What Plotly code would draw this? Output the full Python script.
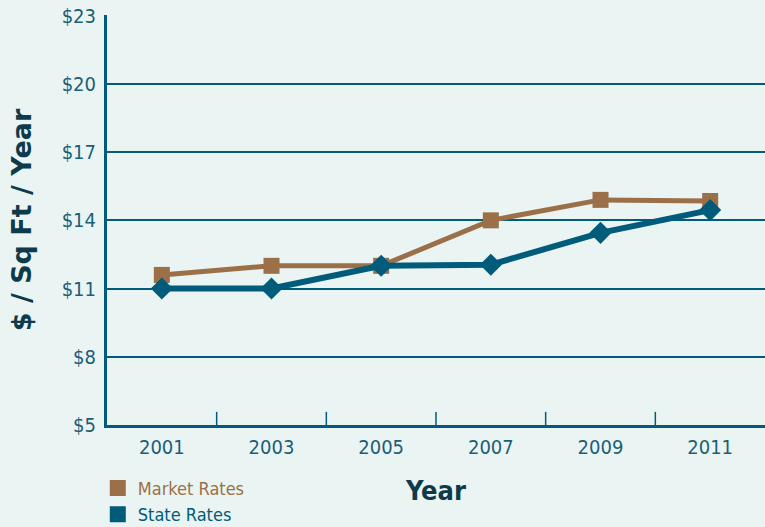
import plotly.graph_objects as go

years = ["2001", "2003", "2005", "2007", "2009", "2011"]
market_rates = [11.6, 12.0, 12.0, 14.0, 14.9, 14.85]
state_rates = [11.0, 11.0, 12.0, 12.05, 13.45, 14.45]
y_ticks = [5, 8, 11, 14, 17, 20, 23]
y_tick_labels = ["$" + str(v) for v in y_ticks]

BROWN = "#9B7048"
TEAL = "#005C7A"
BG = "#EAF4F2"
LABEL = "#1A5F78"
TITLE = "#0E3B4C"
NARROW = "DejaVu Sans Condensed, Liberation Sans Narrow, sans-serif"

fig = go.Figure()
fig.add_trace(go.Scatter(
    x=years, y=market_rates, mode="lines+markers",
    line=dict(color=BROWN, width=5),
    marker=dict(symbol="square", size=16, color=BROWN),
    showlegend=False, cliponaxis=False,
))
fig.add_trace(go.Scatter(
    x=years, y=state_rates, mode="lines+markers",
    line=dict(color=TEAL, width=6),
    marker=dict(symbol="diamond", size=17, color=TEAL),
    showlegend=False, cliponaxis=False,
))
# legend entries
fig.add_trace(go.Scatter(
    x=[None], y=[None], mode="markers",
    marker=dict(symbol="square", size=17, color=BROWN),
    name="<span style='color:%s'>Market Rates</span>" % BROWN,
))
fig.add_trace(go.Scatter(
    x=[None], y=[None], mode="markers",
    marker=dict(symbol="square", size=17, color=TEAL),
    name="<span style='color:%s'>State Rates</span>" % TEAL,
))

fig.update_layout(
    width=765, height=527,
    paper_bgcolor=BG, plot_bgcolor=BG,
    margin=dict(l=107, r=0, t=15, b=102, autoexpand=False),
    font=dict(family=NARROW, color=LABEL, size=19),
    legend=dict(
        x=-0.014, y=-0.109, xanchor="left", yanchor="top",
        bgcolor="rgba(0,0,0,0)", font=dict(family=NARROW, size=18),
        tracegroupgap=0, itemsizing="trace", itemwidth=30,
    ),
    xaxis=dict(
        type="category", range=[-0.5, 5.5],
        showgrid=False, zeroline=False,
        showline=True, linecolor=TEAL, linewidth=3,
        ticks="", tickfont=dict(family=NARROW, size=20, color=LABEL),
        ticklabelstandoff=2,
        title=dict(text="<b>Year</b>", font=dict(family="DejaVu Sans Condensed, DejaVu Sans", size=27, color=TITLE), standoff=24),
    ),
    yaxis=dict(
        range=[5, 23.03], tickvals=y_ticks, ticktext=y_tick_labels,
        showgrid=True, gridcolor=TEAL, gridwidth=1.5,
        zeroline=False, showline=True, linecolor=TEAL, linewidth=3,
        ticks="", tickfont=dict(family=NARROW, size=20, color=LABEL),
        ticklabelstandoff=4,
        title=dict(text="<b>$ / Sq Ft / Year</b>", font=dict(family="DejaVu Sans", size=27, color=TITLE), standoff=23),
    ),
)

# tick marks between categories on x axis
for i in range(1, 6):
    fig.add_shape(type="line", xref="x", yref="paper",
                  x0=i - 0.5, x1=i - 0.5, y0=0, y1=0.032,
                  line=dict(color=TEAL, width=1.5))

fig.write_html("out.html", config={"displayModeBar": False},
               post_script="document.body.style.margin='0';")
